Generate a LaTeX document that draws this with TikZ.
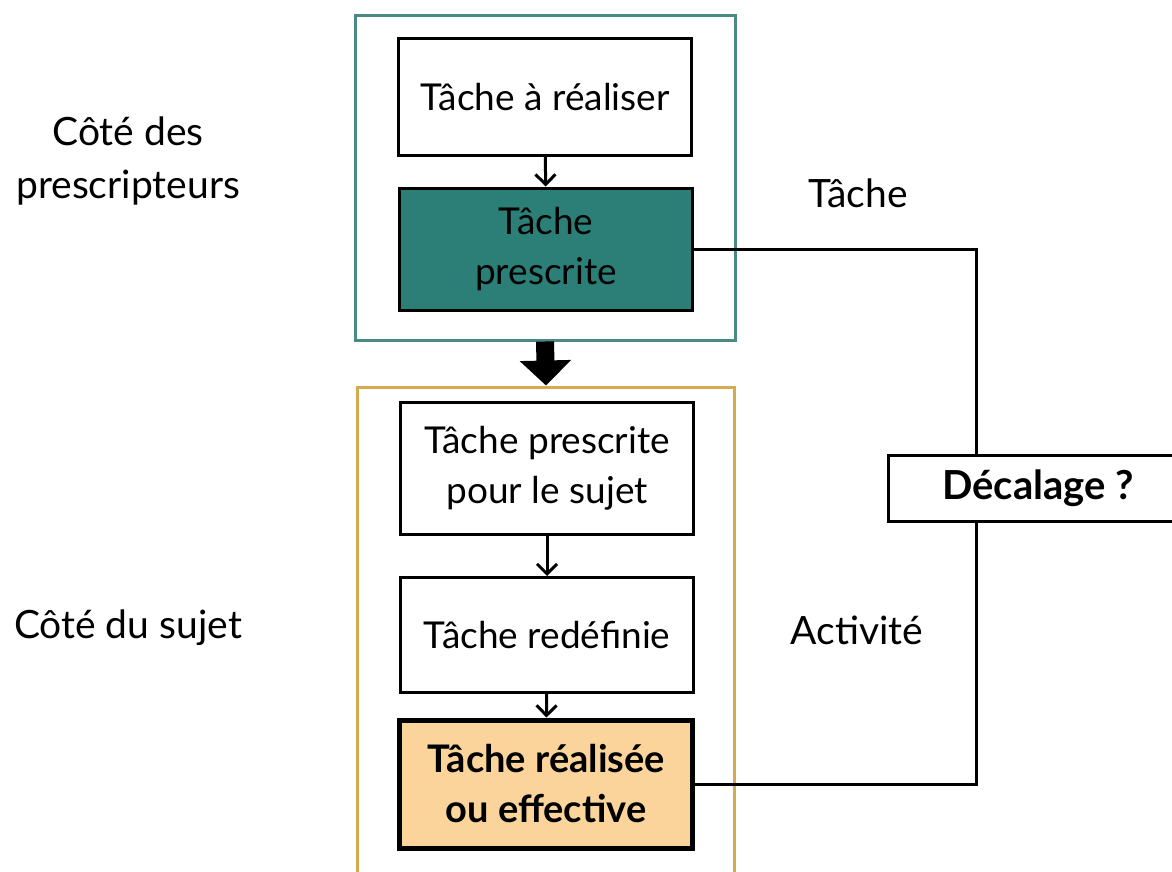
\documentclass[tikz,border=0pt]{standalone}
\usepackage{fontspec}
\setmainfont{Lato}
\usepackage{xcolor}
\usepackage{tikz}
\usetikzlibrary{arrows.meta,positioning}

\definecolor{tealframe}{HTML}{4A8A84}
\definecolor{tealfill}{HTML}{2B7F76}
\definecolor{ochreframe}{HTML}{D6AA50}
\definecolor{ochrefill}{HTML}{FBD49B}

\begin{document}
\begin{tikzpicture}[x=1pt, y=-1pt,
    task/.style={draw, line width=3pt, rectangle, minimum width=293pt,
                 align=center, font=\fontsize{37}{50}\selectfont},
    frame/.style={draw, line width=3pt, rectangle},
    side/.style={align=center, font=\fontsize{39}{53}\selectfont},
    flow/.style={line width=3pt, -{Straight Barb[length=10pt,width=20pt]}},
    link/.style={line width=3pt}
]
\useasboundingbox (0,0) rectangle (1172,872);

% Prescripteurs side
\node[frame, draw=tealframe, minimum width=380pt, minimum height=324pt] (presc) at (545,178) {};
\node[task, minimum height=116pt] (todo) at (545,97) {Tâche à réaliser};
\node[task, fill=tealfill, minimum height=122pt] (prescr) at (546,249) {Tâche\\prescrite};
\draw[flow] (todo) -- (prescr);

% Sujet side
\node[frame, draw=ochreframe, minimum width=377pt, minimum height=520pt] (sujet) at (546,647) {};
\node[task, minimum height=132pt] (forsub) at (547,468) {Tâche prescrite\\pour le sujet};
\node[task, minimum height=115pt] (redef) at (547,635) {Tâche redéfinie};
\node[task, fill=ochrefill, line width=5pt, minimum height=128pt,
      font=\fontsize{38}{50}\selectfont\bfseries] (real) at (546,784) {Tâche réalisée\\ou effective};
\draw[flow] (forsub) -- (redef);
\draw[flow] (redef) -- (real);

% transmission between the two sides
\draw[line width=18pt, -{Triangle[width=50pt,length=25pt]}] (presc.south) -- (sujet.north);

% gap between task and activity
\node[draw, line width=3pt, minimum width=300pt, minimum height=66pt,
      font=\fontsize{40}{44}\selectfont\bfseries] (dec) at (1038,488) {Décalage ?};
\coordinate (bend) at (976,0);
\draw[link] (prescr.east) -| (bend |- dec.north);
\draw[link] (real.east) -| (bend |- dec.south);

% labels
\node[side] (cpresc) at (128,161) {Côté des\\prescripteurs};
\node[side] (csujet) at (128,628) {Côté du sujet};
\node[side] (ltache) at (858,193) {Tâche};
\node[side] (lactiv) at (857,630) {Activité};
\end{tikzpicture}
\end{document}
